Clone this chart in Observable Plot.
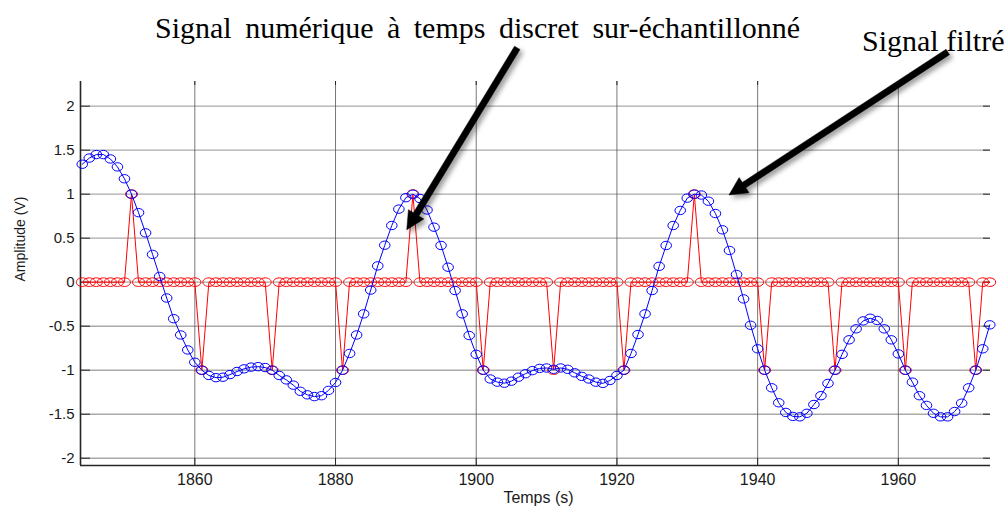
<!DOCTYPE html>
<html>
<head>
<meta charset="utf-8">
<script src="https://cdn.jsdelivr.net/npm/d3@7"></script>
<script src="https://cdn.jsdelivr.net/npm/@observablehq/plot@0.6"></script>
<style>
  body { margin: 0; background: #fff; }
  #chart { position: relative; width: 1007px; height: 507px; overflow: hidden; background: #fff; }
  #chart svg { display: block; }
  .note {
    position: absolute;
    font-family: "Liberation Serif", "Times New Roman", serif;
    font-size: 30px;
    line-height: 30px;
    color: #000;
    white-space: nowrap;
  }
</style>
</head>
<body>
<div id="chart">
  <div class="note" style="left:155px; top:13px; word-spacing:6px;">Signal numérique à temps discret sur-échantillonné</div>
  <div class="note" style="left:862px; top:26px;">Signal filtré</div>
</div>
<script>
// Sample instants (s)
const time = [
  1844, 1845, 1846, 1847, 1848, 1849, 1850, 1851, 1852, 1853,
  1854, 1855, 1856, 1857, 1858, 1859, 1860, 1861, 1862, 1863,
  1864, 1865, 1866, 1867, 1868, 1869, 1870, 1871, 1872, 1873,
  1874, 1875, 1876, 1877, 1878, 1879, 1880, 1881, 1882, 1883,
  1884, 1885, 1886, 1887, 1888, 1889, 1890, 1891, 1892, 1893,
  1894, 1895, 1896, 1897, 1898, 1899, 1900, 1901, 1902, 1903,
  1904, 1905, 1906, 1907, 1908, 1909, 1910, 1911, 1912, 1913,
  1914, 1915, 1916, 1917, 1918, 1919, 1920, 1921, 1922, 1923,
  1924, 1925, 1926, 1927, 1928, 1929, 1930, 1931, 1932, 1933,
  1934, 1935, 1936, 1937, 1938, 1939, 1940, 1941, 1942, 1943,
  1944, 1945, 1946, 1947, 1948, 1949, 1950, 1951, 1952, 1953,
  1954, 1955, 1956, 1957, 1958, 1959, 1960, 1961, 1962, 1963,
  1964, 1965, 1966, 1967, 1968, 1969, 1970, 1971, 1972, 1973
];

// Over-sampled discrete-time signal (V): zeros between the original samples
const sampled = [
   0,  0,  0,  0,  0,  0,  0,  1,  0,  0,
   0,  0,  0,  0,  0,  0,  0, -1,  0,  0,
   0,  0,  0,  0,  0,  0,  0, -1,  0,  0,
   0,  0,  0,  0,  0,  0,  0, -1,  0,  0,
   0,  0,  0,  0,  0,  0,  0,  1,  0,  0,
   0,  0,  0,  0,  0,  0,  0, -1,  0,  0,
   0,  0,  0,  0,  0,  0,  0, -1,  0,  0,
   0,  0,  0,  0,  0,  0,  0, -1,  0,  0,
   0,  0,  0,  0,  0,  0,  0,  1,  0,  0,
   0,  0,  0,  0,  0,  0,  0, -1,  0,  0,
   0,  0,  0,  0,  0,  0,  0, -1,  0,  0,
   0,  0,  0,  0,  0,  0,  0, -1,  0,  0,
   0,  0,  0,  0,  0,  0,  0, -1,  0,  0
];

// Interpolation filter output (V)
const filtered = [
   1.34,   1.41,   1.45,   1.45,   1.40,   1.31,   1.175,  1.0,    0.79,   0.56,
   0.315,  0.065, -0.18,  -0.415, -0.6,   -0.77,  -0.91,  -1.0,   -1.06,  -1.085,
  -1.08,  -1.05,  -1.015, -0.985, -0.965, -0.96,  -0.97,  -1.0,   -1.06,  -1.11,
  -1.17,  -1.24,  -1.28,  -1.30,  -1.29,  -1.23,  -1.14,  -1.0,   -0.81,  -0.6,
  -0.36,  -0.09,   0.185,  0.42,   0.644,  0.83,   0.96,   1.0,    0.95,   0.82,
   0.625,  0.417,  0.17,  -0.095, -0.36,  -0.606, -0.82,  -1.0,   -1.10,  -1.136,
  -1.148, -1.125, -1.08,  -1.04,  -1.005, -0.98,  -0.975, -0.99,  -0.975, -0.99,
  -1.03,  -1.07,  -1.10,  -1.136, -1.15,  -1.117, -1.06,  -1.0,   -0.81,  -0.595,
  -0.36,  -0.095,  0.18,   0.417,  0.644,  0.815,  0.955,  1.0,    0.99,   0.92,
   0.78,   0.595,  0.36,   0.087, -0.19,  -0.49,  -0.757, -1.0,   -1.2,   -1.37,
  -1.48,  -1.525, -1.53,  -1.49,  -1.39,  -1.29,  -1.15,  -1.0,   -0.82,  -0.655,
  -0.53,  -0.44,  -0.41,  -0.435, -0.53,  -0.655, -0.815, -1.0,   -1.136, -1.29,
  -1.40,  -1.49,  -1.53,  -1.53,  -1.47,  -1.375, -1.2,   -1.0,   -0.757, -0.485
];

const xTicks = [1860, 1880, 1900, 1920, 1940, 1960];
const yTicks = [-2, -1.5, -1, -0.5, 0, 0.5, 1, 1.5, 2];
const xDomain = [1843.75, 1973.1];
const yDomain = [-2.083, 2.28];

// Annotation arrows: tail (near each caption) and head (on the curves), in data units
const arrowX1 = [1905.9, 1967.1];
const arrowY1 = [2.656, 2.61];
const arrowX2 = [1890.2, 1936.0];
const arrowY2 = [0.59, 0.985];

const rows = time.map((t, i) => ({t, sampled: sampled[i], filtered: filtered[i]}));

// Slightly flattened circle markers
function ellipseSymbol(sx, sy) {
  return {
    draw(context, size) {
      const r = Math.sqrt(size / Math.PI);
      const rx = r * sx, ry = r * sy, k = 0.5523;
      context.moveTo(rx, 0);
      context.bezierCurveTo(rx, k * ry, k * rx, ry, 0, ry);
      context.bezierCurveTo(-k * rx, ry, -rx, k * ry, -rx, 0);
      context.bezierCurveTo(-rx, -k * ry, -k * rx, -ry, 0, -ry);
      context.bezierCurveTo(k * rx, -ry, rx, -k * ry, rx, 0);
      context.closePath();
    }
  };
}

// Thick filled arrows with a soft drop shadow
function arrowRender(index, scales, values) {
  const g = d3.create("svg:g");
  const f = g.append("defs").append("filter")
    .attr("id", "arrow-shadow")
    .attr("x", "-30%").attr("y", "-30%").attr("width", "160%").attr("height", "160%");
  f.append("feDropShadow")
    .attr("dx", 3).attr("dy", 3).attr("stdDeviation", 2.5)
    .attr("flood-color", "#000").attr("flood-opacity", 0.4);
  const w = 3.2, hw = 9, hl = 18;
  for (const i of index) {
    const x1 = values.x1[i], y1 = values.y1[i], x2 = values.x2[i], y2 = values.y2[i];
    const L = Math.hypot(x2 - x1, y2 - y1);
    const ux = (x2 - x1) / L, uy = (y2 - y1) / L;
    const nx = -uy, ny = ux;
    const bx = x2 - ux * hl, by = y2 - uy * hl;
    const pts = [
      [x1 + nx * w, y1 + ny * w],
      [bx + nx * w, by + ny * w],
      [bx + nx * hw, by + ny * hw],
      [x2, y2],
      [bx - nx * hw, by - ny * hw],
      [bx - nx * w, by - ny * w],
      [x1 - nx * w, y1 - ny * w]
    ];
    g.append("path")
      .attr("d", "M" + pts.map(p => p.join(",")).join("L") + "Z")
      .attr("fill", "#000")
      .attr("stroke", "#000")
      .attr("stroke-width", 0.5)
      .attr("stroke-linejoin", "miter")
      .attr("filter", "url(#arrow-shadow)");
  }
  return g.node();
}

const innerW = 910, innerH = 384;
const axisColor = "#262626";

const chart = Plot.plot({
  width: 1007,
  height: 507,
  marginTop: 81,
  marginBottom: 42,
  marginLeft: 80,
  marginRight: 17,
  style: {fontFamily: "'Liberation Sans', Arial, sans-serif", fontSize: "15px", color: "#1a1a1a", background: "#fff"},
  x: {domain: xDomain, label: null},
  y: {domain: yDomain, label: null},
  marks: [
    // grid
    Plot.ruleY(yTicks, {stroke: "#a9a9a9", strokeWidth: 1.4}),
    Plot.ruleX(xTicks, {stroke: "#555", strokeWidth: 0.8}),
    // inward tick marks on all four sides
    Plot.tickY(yTicks, {insetRight: innerW - 10, stroke: axisColor}),
    Plot.tickY(yTicks, {insetLeft: innerW - 7, stroke: axisColor}),
    Plot.tickX(xTicks, {insetTop: innerH - 7, stroke: axisColor}),
    Plot.tickX(xTicks, {insetBottom: innerH - 4, stroke: axisColor}),
    // axis lines
    Plot.ruleX([xDomain[0]], {stroke: axisColor, strokeWidth: 1.6}),
    Plot.ruleY([yDomain[0]], {stroke: axisColor, strokeWidth: 1.6}),
    // tick labels
    Plot.axisX({ticks: xTicks, tickSize: 0, tickPadding: 8, fontSize: 16, tickFormat: d => String(d), label: null}),
    Plot.axisY({ticks: yTicks, tickSize: 0, tickPadding: 6, fontSize: 15, tickFormat: d => String(d), label: null}),
    // axis titles
    Plot.text(["Temps (s)"], {frameAnchor: "bottom", dx: 3, dy: 37, lineAnchor: "bottom", fontSize: 16, fill: "#1a1a1a"}),
    Plot.text(["Amplitude (V)"], {frameAnchor: "left", dx: -60, dy: 8, rotate: -90, fontSize: 14, fill: "#1a1a1a"}),
    // over-sampled signal
    Plot.line(rows, {x: "t", y: "sampled", stroke: "#ff0000", strokeWidth: 1}),
    Plot.dot(rows, {x: "t", y: "sampled", r: 5, symbol: ellipseSymbol(1.2, 0.86), stroke: "#ff0000", fill: "none", strokeWidth: 1}),
    // filtered signal
    Plot.line(rows, {x: "t", y: "filtered", stroke: "#0000ff", strokeWidth: 1}),
    Plot.dot(rows, {x: "t", y: "filtered", r: 5, symbol: ellipseSymbol(1.06, 0.84), stroke: "#0000ff", fill: "none", strokeWidth: 1}),
    // annotation arrows
    Plot.link(arrowX1, {x1: arrowX1, y1: arrowY1, x2: arrowX2, y2: arrowY2, render: arrowRender})
  ]
});

const host = document.getElementById("chart");
host.insertBefore(chart, host.firstChild);
</script>
</body>
</html>
